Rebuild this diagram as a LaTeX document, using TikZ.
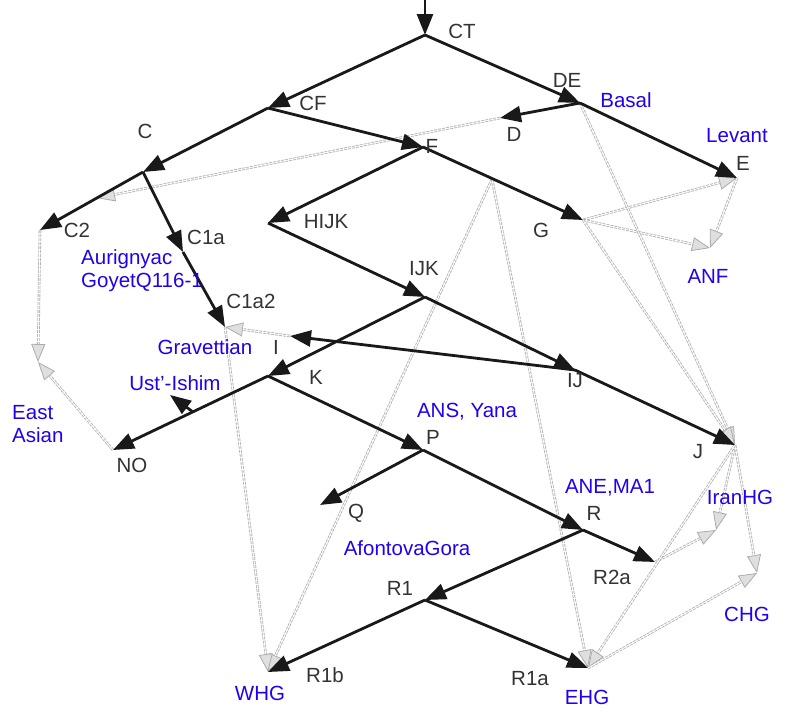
\documentclass[tikz,border=0pt]{standalone}
\usepackage{fontspec}
\setmainfont{Liberation Sans}
\usetikzlibrary{arrows.meta}
\definecolor{lab}{HTML}{333333}
\definecolor{blu}{HTML}{2200EE}
\begin{document}
\begin{tikzpicture}[x=1pt,y=-1pt,
  tree/.style={line width=2.8pt,black!90,-{Triangle[length=21pt,width=16pt]}},
  adm/.style={draw=gray!60,line width=2.6pt,dash pattern=on 3pt off 1pt,
    -{Triangle[length=18pt,width=14pt,line width=0.8pt,fill=gray!25,color=gray!65]},
    postaction={draw=white,line width=0.9pt,solid,-,shorten >=18pt}},
  tl/.style={text=lab,font=\fontsize{20.5}{23}\selectfont,inner sep=0pt},
  bl/.style={text=blu,font=\fontsize{20.5}{23}\selectfont,inner sep=0pt,align=left}]
\useasboundingbox (0,0) rectangle (798,720);
% points
\coordinate (top) at (425,0);
\coordinate (CT) at (425,35);
\coordinate (CF) at (268,108);
\coordinate (DE) at (580,103);
\coordinate (C) at (143,172);
\coordinate (F) at (423,147);
\coordinate (D) at (500,118);
\coordinate (E) at (737,178);
\coordinate (C2) at (40,230);
\coordinate (C1a) at (183,252);
\coordinate (C1a2) at (225,327);
\coordinate (HIJK) at (268,223);
\coordinate (G) at (583,220);
\coordinate (FG) at (492,179);
\coordinate (CC2) at (97,198);
\coordinate (ANF) at (710,248);
\coordinate (IJK) at (425,297);
\coordinate (IJ) at (575,370);
\coordinate (I) at (290,336);
\coordinate (K) at (268,376);
\coordinate (NO) at (113,450);
\coordinate (KNO) at (193,412);
\coordinate (UI) at (170,395);
\coordinate (EA) at (38,362);
\coordinate (P) at (423,450);
\coordinate (Q) at (320,505);
\coordinate (R) at (583,530);
\coordinate (R2a) at (655,562);
\coordinate (R1) at (425,600);
\coordinate (R1b) at (268,672);
\coordinate (R1a) at (588,668);
\coordinate (J) at (735,445);
\coordinate (IR) at (716,530);
\coordinate (CHG) at (757,573);
% admixture
\draw[adm] (D) -- (CC2);
\draw[adm] (C2) -- (EA);
\draw[adm] (NO) -- (EA);
\draw[adm] (G) -- (E);
\draw[adm] (G) -- (ANF);
\draw[adm] (E) -- (ANF);
\draw[adm] (DE) -- (J);
\draw[adm] (G) -- (J);
\draw[adm] (FG) -- (R1b);
\draw[adm] (FG) -- (R1a);
\draw[adm] (I) -- (C1a2);
\draw[adm] (C1a2) -- (R1b);
\draw[adm] (J) -- (IR);
\draw[adm] (R2a) -- (IR);
\draw[adm] (J) -- (CHG);
\draw[adm] (J) -- (R1a);
\draw[adm] (R1a) -- (CHG);
% tree
\draw[tree] (top) -- (CT);
\draw[tree] (CT) -- (CF);
\draw[tree] (CT) -- (DE);
\draw[tree] (CF) -- (C);
\draw[tree] (CF) -- (F);
\draw[tree] (DE) -- (D);
\draw[tree] (DE) -- (E);
\draw[tree] (C) -- (C2);
\draw[tree] (C) -- (C1a);
\draw[tree] (C1a) -- (C1a2);
\draw[tree] (F) -- (HIJK);
\draw[tree] (F) -- (G);
\draw[tree] (HIJK) -- (IJK);
\draw[tree] (IJK) -- (K);
\draw[tree] (IJK) -- (IJ);
\draw[tree] (IJ) -- (I);
\draw[tree] (IJ) -- (J);
\draw[tree] (K) -- (NO);
\draw[tree] (KNO) -- (UI);
\draw[tree] (K) -- (P);
\draw[tree] (P) -- (Q);
\draw[tree] (P) -- (R);
\draw[tree] (R) -- (R2a);
\draw[tree] (R) -- (R1);
\draw[tree] (R1) -- (R1b);
\draw[tree] (R1) -- (R1a);
% labels
\node[tl] (lCT) at (462,31) {CT};
\node[tl] (lCF) at (313,103) {CF};
\node[tl] (lDE) at (567,80) {DE};
\node[bl] (lBasal) at (626,100) {Basal};
\node[tl] (lC) at (145,131) {C};
\node[tl] (lD) at (514,134) {D};
\node[tl] (lF) at (432,146) {F};
\node[bl] (lLev) at (737,136) {Levant};
\node[tl] (lE) at (743,163) {E};
\node[tl] (lC2) at (77,230) {C2};
\node[tl] (lHIJK) at (326,222) {HIJK};
\node[tl] (lG) at (541,230) {G};
\node[tl] (lC1a) at (206,237) {C1a};
\node[bl,anchor=west] (lAur) at (81,271) {Aurignyac\\GoyetQ116-1};
\node[bl] (lANF) at (708,276) {ANF};
\node[tl] (lIJK) at (424,269) {IJK};
\node[tl] (lC1a2) at (251,301) {C1a2};
\node[bl] (lGrav) at (205,347) {Gravettian};
\node[tl] (lI) at (276,347) {I};
\node[bl] (lUI) at (175,383) {Ust'-Ishim};
\node[tl] (lK) at (316,377) {K};
\node[bl,anchor=west] (lEA) at (12,424) {East\\Asian};
\node[tl] (lNO) at (132,465) {NO};
\node[bl] (lANS) at (467,412) {ANS, Yana};
\node[tl] (lP) at (433,437) {P};
\node[tl] (lIJ) at (575,381) {IJ};
\node[tl] (lJ) at (698,452) {J};
\node[bl] (lIran) at (740,497) {IranHG};
\node[bl] (lANE) at (610,488) {ANE,MA1};
\node[tl] (lR) at (594,513) {R};
\node[tl] (lQ) at (356,513) {Q};
\node[bl] (lAfo) at (407,548) {AfontovaGora};
\node[tl] (lR2a) at (612,577) {R2a};
\node[bl] (lCHG) at (747,614) {CHG};
\node[tl] (lR1) at (400,588) {R1};
\node[tl] (lR1b) at (325,675) {R1b};
\node[tl] (lR1a) at (530,679) {R1a};
\node[bl] (lWHG) at (260,693) {WHG};
\node[bl] (lEHG) at (587,697) {EHG};
\end{tikzpicture}
\end{document}
